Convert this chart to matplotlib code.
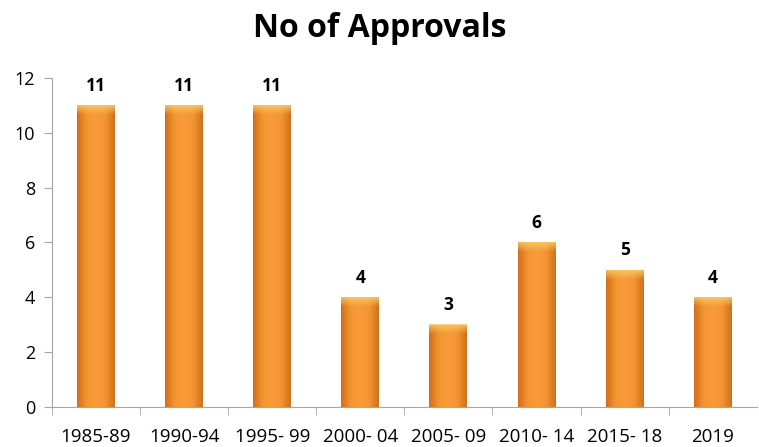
import numpy as np
import matplotlib.pyplot as plt
from matplotlib.colors import LinearSegmentedColormap

plt.rcParams['font.family'] = ['Open Sans', 'DejaVu Sans']

# data
periods = ['1985-89', '1990-94', '1995- 99', '2000- 04', '2005- 09', '2010- 14', '2015- 18', '2019']
approvals = [11, 11, 11, 4, 3, 6, 5, 4]

fig = plt.figure(figsize=(7.59, 4.47), dpi=100)
ax = fig.add_axes([0.0685, 0.0895, 0.9285, 0.736])

x = np.arange(len(periods))
bars = ax.bar(x, approvals, width=0.43, color='#F39130', zorder=2)

# horizontal gradient inside each bar, darker at the edges
cmap = LinearSegmentedColormap.from_list('orng', ['#D0701C', '#F39532', '#F89B38', '#F39532', '#D0701C'])
grad = np.tile(np.linspace(0, 1, 64), (64, 1))
# fading light band at the top of each bar
hl = np.zeros((32, 1, 4))
hl[..., 0], hl[..., 1], hl[..., 2] = 0.98, 0.80, 0.42
hl[:, 0, 3] = np.linspace(0.85, 0.0, 32)
for b in bars:
    x0, w, h = b.get_x(), b.get_width(), b.get_height()
    im = ax.imshow(grad, extent=[x0, x0 + w, 0, h], cmap=cmap, aspect='auto', zorder=3)
    im.set_clip_path(b)
    ax.imshow(hl, extent=[x0, x0 + w, h - 0.35, h], aspect='auto', zorder=4)
    ax.text(x0 + w / 2, h + 0.38, str(int(h)), ha='center', va='bottom',
            fontsize=12.5, fontweight='bold', color='black', zorder=5)

ax.set_xlim(-0.5, len(periods) - 0.5)
ax.set_ylim(0, 12)
ax.set_yticks(range(0, 13, 2))
ax.set_xticks(x)
ax.set_xticklabels(periods, fontsize=13.5)
ax.set_xticks(np.arange(-0.5, len(periods) - 0.5, 1), minor=True)
ax.tick_params(axis='x', which='major', length=0, pad=15)
ax.tick_params(axis='x', which='minor', length=6, color='#A6A6A6', direction='out')
ax.tick_params(axis='y', labelsize=13, length=6, color='#A6A6A6', pad=6)
for s in ['top', 'right']:
    ax.spines[s].set_visible(False)
for s in ['left', 'bottom']:
    ax.spines[s].set_color('#A6A6A6')

fig.text(0.5, 0.937, 'No of Approvals', ha='center', va='center', fontsize=23, fontweight='bold')

fig.savefig('out.png', dpi=100)
